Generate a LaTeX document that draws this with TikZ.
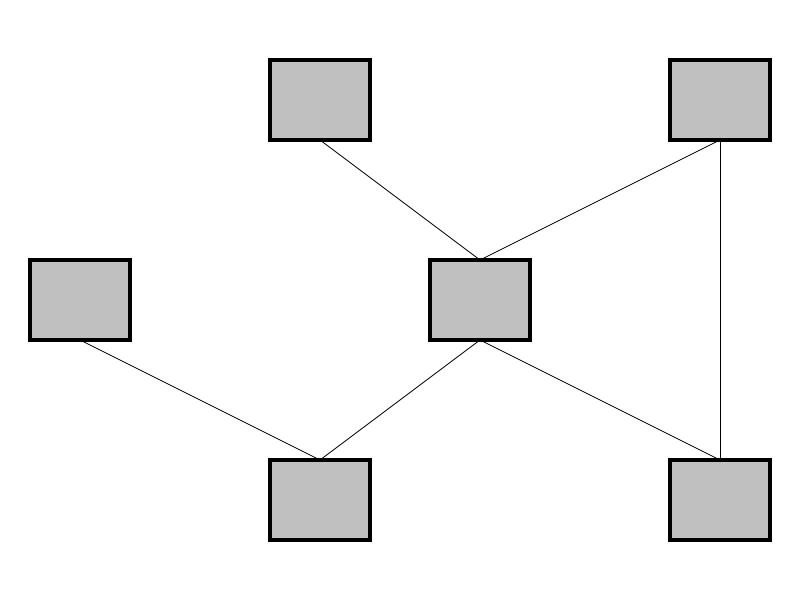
\documentclass[tikz,border=0pt]{standalone}
\usepackage{tikz}
\usetikzlibrary{positioning}
\definecolor{boxgray}{HTML}{C0C0C0}

\begin{document}
\begin{tikzpicture}[
    box/.style={rectangle, draw, line width=2.2pt, fill=boxgray, minimum width=2.5cm, minimum height=2cm, inner sep=0pt, outer sep=0pt},
    link/.style={line width=0.6pt},
]
\useasboundingbox (0,0) rectangle (20,-15);

% Boxes
\node[box] (topmid) at (8,-2.5) {};
\node[box] (topright) at (18,-2.5) {};
\node[box] (left) at (2,-7.5) {};
\node[box] (center) at (12,-7.5) {};
\node[box] (botmid) at (8,-12.5) {};
\node[box] (botright) at (18,-12.5) {};

% Links
\draw[link] (topmid.south) -- (center.north);
\draw[link] (topright.south) -- (center.north);
\draw[link] (topright.south) -- (botright.north);
\draw[link] (left.south) -- (botmid.north);
\draw[link] (center.south) -- (botmid.north);
\draw[link] (center.south) -- (botright.north);

\end{tikzpicture}
\end{document}
